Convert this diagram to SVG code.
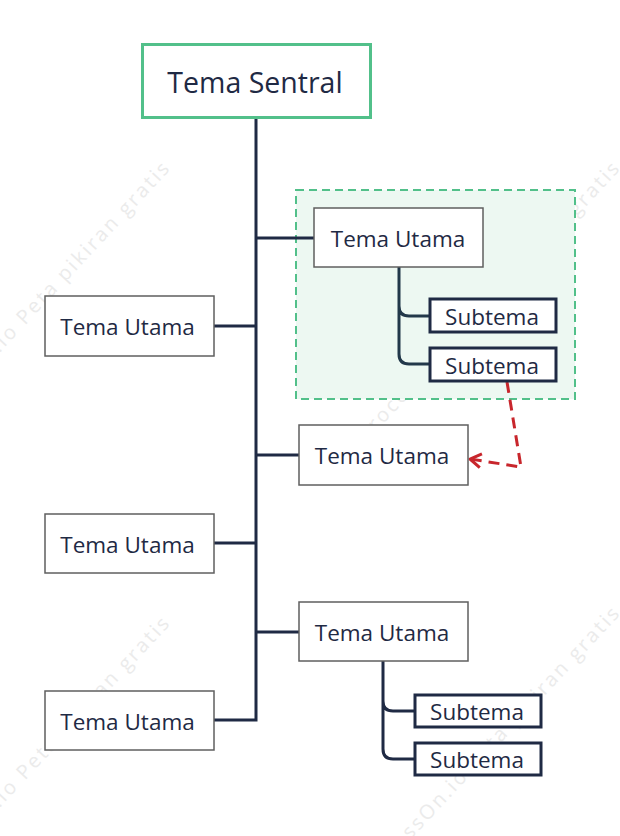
<svg xmlns="http://www.w3.org/2000/svg" width="620" height="836" viewBox="0 0 620 836">
<defs>
<style>
.wm{font-family:"Open Sans","Noto Sans",sans-serif;font-size:20px;letter-spacing:2.5px;fill:#ebebeb;text-anchor:end}
.txt{font-family:"Open Sans","Noto Sans","Liberation Sans",sans-serif;fill:#1f2a44;text-anchor:middle;dominant-baseline:central}
.main{fill:#fff;stroke:#5f5f5f;stroke-width:1.5}
.sub{fill:#fff;stroke:#1f2a44;stroke-width:3}
.conn{fill:none;stroke:#1f2a44;stroke-width:3}
.sconn{fill:none;stroke:#22384a;stroke-width:3}
</style>
<marker id="arr" viewBox="0 0 16 16" refX="13" refY="8" markerWidth="16" markerHeight="16" markerUnits="userSpaceOnUse" orient="auto" overflow="visible">
<path d="M2,1 L13,8 L2,15" fill="none" stroke="#c8262c" stroke-width="3" stroke-linejoin="round"/>
</marker>
</defs>
<rect width="620" height="836" fill="#fff"/>
<g id="watermark">
<text class="wm" transform="translate(172,168) rotate(-47)">ProcessOn.io Peta pikiran gratis</text>
<text class="wm" transform="translate(622,168) rotate(-47)">ProcessOn.io Peta pikiran gratis</text>
<text class="wm" transform="translate(172,623) rotate(-47)">ProcessOn.io Peta pikiran gratis</text>
<text class="wm" transform="translate(622,613) rotate(-47)">ProcessOn.io Peta pikiran gratis</text>
</g>
<g id="group-box">
<rect x="296" y="190" width="279" height="209" fill="#edf8f2" stroke="#52c08a" stroke-width="2" stroke-dasharray="8,5"/>
</g>
<g id="connectors">
<path class="conn" d="M256,118 V720 H214"/>
<path class="conn" d="M256,238 H314 M214,326 H256 M256,455 H299 M214,543 H256 M256,632 H299"/>
<path class="sconn" d="M399,267 V306 Q399,316 409,316 H430 M399,306 V354 Q399,364 409,364 H430"/>
<path class="conn" d="M383,661 V701 Q383,711 393,711 H415 M383,701 V749 Q383,759 393,759 H415"/>
<path d="M507,382 L521,467 L470,459" fill="none" stroke="#c8262c" stroke-width="3" stroke-dasharray="11,7" marker-end="url(#arr)"/>
</g>
<g id="central">
<rect x="142.5" y="44.5" width="228" height="73" fill="#fff" stroke="#52c08a" stroke-width="3"/>
<text class="txt" x="255" y="82" font-size="28.5">Tema Sentral</text>
</g>
<g id="topic-r1">
<rect class="main" x="314" y="208" width="169" height="59"/>
<text class="txt" x="398" y="238" font-size="22.5">Tema Utama</text>
</g>
<g id="sub-r1a">
<rect class="sub" x="430" y="299" width="126" height="33"/>
<text class="txt" x="492" y="316" font-size="22.5">Subtema</text>
</g>
<g id="sub-r1b">
<rect class="sub" x="430" y="348" width="126" height="33"/>
<text class="txt" x="492" y="365" font-size="22.5">Subtema</text>
</g>
<g id="topic-l1">
<rect class="main" x="45" y="296" width="169" height="60"/>
<text class="txt" x="127.5" y="326" font-size="22.5">Tema Utama</text>
</g>
<g id="topic-r2">
<rect class="main" x="299" y="425" width="169" height="60"/>
<text class="txt" x="382" y="455" font-size="22.5">Tema Utama</text>
</g>
<g id="topic-l2">
<rect class="main" x="45" y="514" width="169" height="59"/>
<text class="txt" x="127.5" y="544" font-size="22.5">Tema Utama</text>
</g>
<g id="topic-r3">
<rect class="main" x="299" y="602" width="169" height="59"/>
<text class="txt" x="382" y="632" font-size="22.5">Tema Utama</text>
</g>
<g id="sub-r3a">
<rect class="sub" x="415" y="695" width="126" height="32"/>
<text class="txt" x="477" y="711" font-size="22.5">Subtema</text>
</g>
<g id="sub-r3b">
<rect class="sub" x="415" y="743" width="126" height="32"/>
<text class="txt" x="477" y="759" font-size="22.5">Subtema</text>
</g>
<g id="topic-l3">
<rect class="main" x="45" y="691" width="169" height="59"/>
<text class="txt" x="127.5" y="721" font-size="22.5">Tema Utama</text>
</g>
</svg>
